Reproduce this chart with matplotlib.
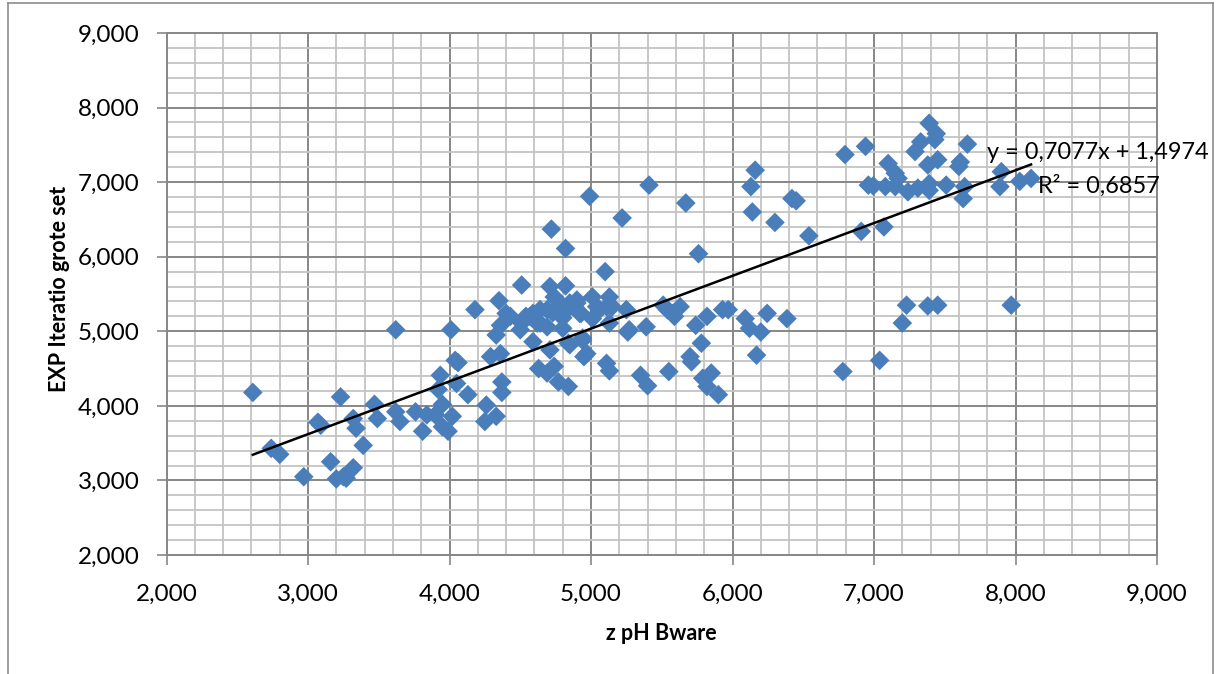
import matplotlib
matplotlib.use("Agg")
import matplotlib.pyplot as plt
from matplotlib.ticker import MultipleLocator, FuncFormatter
from matplotlib.lines import Line2D
import numpy as np

x_vals = [2.61, 2.74, 2.80, 2.97, 3.07, 3.09, 3.16, 3.20, 3.23, 3.27, 3.25, 3.32, 3.32, 3.34, 3.39,
          3.47, 3.49, 3.62, 3.62, 3.65, 3.76, 3.81, 3.84, 3.90, 3.92, 3.935, 3.95, 3.95, 3.99, 4.02,
          4.01, 4.04, 4.06, 4.05, 4.13, 4.18, 4.26, 4.25, 4.33, 4.29, 4.36, 4.37, 4.37, 4.35, 4.40,
          4.36, 4.33, 4.43,
          4.51, 4.50, 4.51, 4.54, 4.57, 4.59, 4.59, 4.62, 4.64, 4.64, 4.69, 4.69, 4.71, 4.72, 4.73,
          4.74, 4.76, 4.78, 4.80, 4.80, 4.80, 4.82, 4.82, 4.84, 4.85, 4.84, 4.85, 4.90, 4.90, 4.92,
          4.93, 4.94, 4.94, 4.97, 4.95, 4.71, 4.63, 4.69, 4.74, 4.77, 4.84, 4.99, 5.01, 5.04, 5.01,
          5.06, 5.10, 5.11, 5.13, 5.13, 5.15, 5.11, 5.13, 5.22, 5.25, 5.26, 5.27, 5.35, 5.39, 5.40,
          5.41, 5.51, 5.54, 5.55, 5.58, 5.59, 5.63, 5.67, 5.70, 5.71, 5.74, 5.76, 5.78, 5.79, 5.82,
          5.82, 5.85, 5.90, 5.93, 5.97, 6.09, 6.13, 6.14, 6.12, 6.16, 6.17, 6.20, 6.245, 6.30, 6.385,
          6.42, 6.45, 6.54,
          6.78, 6.795, 6.91, 6.94, 6.96, 6.995, 7.04, 7.07, 7.08, 7.10, 7.15, 7.17, 7.15, 7.20, 7.23,
          7.24, 7.29, 7.31, 7.33, 7.38, 7.38, 7.39, 7.39, 7.39, 7.43, 7.44, 7.45, 7.45, 7.51, 7.60,
          7.61, 7.63, 7.64, 7.66, 7.89, 7.90, 7.97, 8.03, 8.11]

y_vals = [4.18, 3.43, 3.35, 3.05, 3.78, 3.74, 3.25, 3.02, 4.12, 3.03, 3.05, 3.17, 3.83, 3.70, 3.47,
          4.02, 3.83, 5.02, 3.92, 3.79, 3.92, 3.66, 3.88, 3.88, 4.22, 4.41, 4.02, 3.72, 3.66, 3.86,
          5.02, 4.61, 4.58, 4.30, 4.15, 5.29, 4.01, 3.79, 3.86, 4.66, 4.70, 4.32, 4.18, 5.41, 5.24,
          5.08, 4.95, 5.20,
          5.62, 5.02, 5.11, 5.20, 5.20, 5.24, 4.86, 5.11, 5.29, 5.11, 5.06, 5.29, 5.60, 6.37, 5.25,
          5.46, 5.42, 5.33, 5.18, 5.29, 5.04, 5.61, 6.11, 5.31, 5.38, 4.84, 4.82, 5.38, 5.42, 5.24,
          5.24, 4.91, 4.88, 4.70, 4.66, 4.75, 4.50, 4.44, 4.53, 4.32, 4.26, 6.81, 5.46, 5.33, 5.17,
          5.29, 5.80, 5.33, 5.46, 5.11, 5.33, 4.57, 4.47, 6.52, 5.29, 4.99, 5.02, 4.41, 5.06, 4.27,
          6.96, 5.35, 5.29, 4.46, 5.24, 5.20, 5.33, 6.72, 4.66, 4.59, 5.08, 6.04, 4.84, 4.37, 5.20,
          4.26, 4.44, 4.15, 5.29, 5.29, 5.17, 6.94, 6.60, 5.04, 7.16, 4.68, 4.99, 5.24, 6.46, 5.17,
          6.78, 6.75, 6.28,
          4.46, 7.37, 6.34, 7.48, 6.96, 6.95, 4.61, 6.40, 6.94, 7.25, 7.12, 7.05, 6.94, 5.11, 5.35,
          6.87, 7.41, 6.92, 7.54, 7.23, 5.34, 6.89, 6.98, 7.79, 7.57, 7.65, 7.30, 5.35, 6.96, 7.21,
          7.27, 6.78, 6.94, 7.51, 6.94, 7.14, 5.35, 7.01, 7.05]

slope = 0.7077
intercept = 1.4974
r_squared = 0.6857

x_label = "z pH Bware"
y_label = "EXP Iteratio grote set"

FONT = ["Lato", "DejaVu Sans"]
plt.rcParams["font.family"] = FONT

W, H = 1218, 674
fig = plt.figure(figsize=(W / 100, H / 100), dpi=100)
L, R, T, B = 166.5, 1157, 33, 555
ax = fig.add_axes([L / W, 1 - B / H, (R - L) / W, (B - T) / H])

ax.set_xlim(2, 9)
ax.set_ylim(2, 9)
ax.xaxis.set_major_locator(MultipleLocator(1))
ax.yaxis.set_major_locator(MultipleLocator(1))
ax.xaxis.set_minor_locator(MultipleLocator(0.2))
ax.yaxis.set_minor_locator(MultipleLocator(0.2))

fmt = FuncFormatter(lambda v, p: f"{v:.3f}".replace(".", ","))
ax.xaxis.set_major_formatter(fmt)
ax.yaxis.set_major_formatter(fmt)

ax.grid(which="minor", color="#c4c4c4", linewidth=1.3, zorder=0)
ax.grid(which="major", color="#878787", linewidth=1.4, zorder=0.5)
ax.set_axisbelow(True)
for s in ax.spines.values():
    s.set_color("#878787")
    s.set_linewidth(1.4)

ax.tick_params(which="minor", length=0)
ax.tick_params(which="major", length=7, width=1.2, color="#878787",
               labelsize=17.5, labelcolor="black")
ax.tick_params(axis="x", which="major", pad=13.5)
ax.tick_params(axis="y", which="major", pad=12.5)

ax.scatter(x_vals, y_vals, marker="D", s=100, color="#4a7ebb", edgecolors="none", zorder=3)

xs = np.array([min(x_vals), max(x_vals)])
ax.plot(xs, slope * xs + intercept, color="black", linewidth=1.8, zorder=4)

ax.text(0.828, 0.771, f"y = {slope:.4f}x + {intercept:.4f}".replace(".", ","),
        transform=ax.transAxes, ha="left", va="center", fontsize=16.9, zorder=5, clip_on=False)
ax.text(0.8795, 0.707, f"R² = {r_squared:.4f}".replace(".", ","),
        transform=ax.transAxes, ha="left", va="center", fontsize=16.9, zorder=5, clip_on=False)

ax.set_xlabel(x_label, fontsize=15.5, fontweight="bold", va="center")
ax.set_ylabel(y_label, fontsize=15.5, fontweight="bold", va="center")
ax.xaxis.set_label_coords(0.5, (B - 633) / (B - T))
ax.yaxis.set_label_coords((60 - L) / (R - L), (B - 289) / (B - T))

# outer chart border
bc = "#8c8c8c"
fig.add_artist(Line2D([8 / W, 8 / W], [0, 1 - 3 / H], transform=fig.transFigure, color=bc, lw=1.2))
fig.add_artist(Line2D([8 / W, 1213 / W], [1 - 3 / H, 1 - 3 / H], transform=fig.transFigure, color=bc, lw=1.2))
fig.add_artist(Line2D([1213 / W, 1213 / W], [0, 1 - 3 / H], transform=fig.transFigure, color=bc, lw=1.2))

fig.savefig("out.png", dpi=100)
